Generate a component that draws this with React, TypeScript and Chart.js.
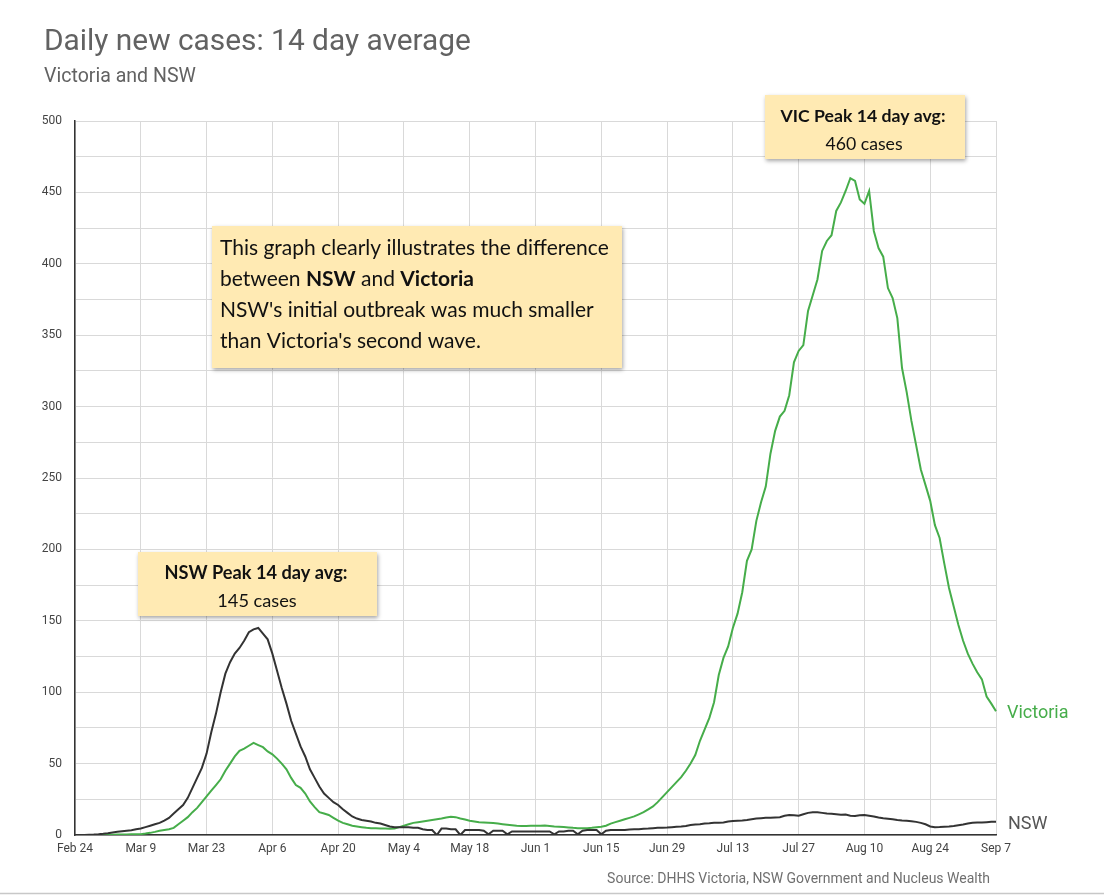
import React, { useEffect, useRef } from "react";
import { Chart, registerables } from "chart.js";

Chart.register(...registerables);

// Tick labels every 14 days (Feb 24 2020 -> Sep 7 2020)
const tickLabels = [
  "Feb 24", "Mar 9", "Mar 23", "Apr 6", "Apr 20", "May 4", "May 18", "Jun 1",
  "Jun 15", "Jun 29", "Jul 13", "Jul 27", "Aug 10", "Aug 24", "Sep 7",
];

const MONTHS = ["Jan", "Feb", "Mar", "Apr", "May", "Jun", "Jul", "Aug", "Sep", "Oct", "Nov", "Dec"];
const dayCategories: string[] = (() => {
  const out: string[] = [];
  const d = new Date(2020, 1, 24);
  for (let i = 0; i <= 196; i++) {
    out.push(MONTHS[d.getMonth()] + " " + d.getDate());
    d.setDate(d.getDate() + 1);
  }
  return out;
})();

// NSW 14-day average of daily new cases
const nswCases = [
  0, 0, 0, 0.2, 0.3,
  0.5, 0.8, 1.2, 1.8, 2.2, 2.6, 3, 3.4, 4, 4.5,
  5.5, 6.5, 7.5, 8.5, 10, 12, 15, 18, 21, 26,
  33, 40, 47, 57, 72, 85, 100, 113, 121, 127,
  131, 136, 142, 144, 145, 141, 137, 127, 115, 103,
  92, 80, 71, 62, 55, 46, 40, 34, 29, 26,
  23, 21, 18, 15.5, 13, 11.5, 10.5, 10, 9.5, 8.5,
  8, 7, 6, 5.5, 5.5, 5.5, 5.5, 5, 5, 4,
  3.5, 3.5, 0, 4.5, 4.5, 4, 4, 0, 3.5, 3.5,
  3.5, 3.5, 3, 0.5, 3, 3, 3, 0.5, 2.5, 2.5,
  2.5, 2.5, 2.5, 2.5, 2.5, 2.5, 2.5, 0.5, 2.5, 2.5,
  3, 3, 0.5, 3, 3.5, 3.5, 3.5, 0.5, 3, 3.5,
  3.5, 3.5, 3.5, 3.8, 4, 4, 4.3, 4.5, 4.8, 5,
  5, 5.2, 5.5, 5.8, 6, 6.3, 7, 7.3, 7.5, 8,
  8.2, 8.5, 8.5, 8.8, 9.5, 9.8, 10, 10.2, 10.5, 11,
  11.5, 11.8, 12, 12, 12.3, 12.5, 13.5, 14, 13.8, 13.5,
  14.5, 15.5, 16, 16, 15.5, 15, 14.8, 14.5, 14.2, 14.3,
  13.5, 13.3, 13.8, 14, 13.5, 13, 12.3, 11.8, 11.4, 11,
  10.5, 10.2, 10, 9.7, 9.2, 8.5, 7.5, 6, 5.5, 5.6,
  5.8, 6, 6.3, 6.8, 7.3, 8, 8.5, 8.7, 8.8, 9, 9.2, 9.3,
];

// Victoria 14-day average of daily new cases
const vicCases = [
  0, 0, 0, 0, 0, 0, 0, 0, 0.2, 0.3,
  0.3, 0.4, 0.5, 0.5, 0.6, 1, 1.5, 2.2, 3, 3.5,
  4, 5, 7.5, 10, 12.5, 16, 19, 23, 27, 31,
  35, 39, 45, 50, 55, 59, 60.5, 62.5, 64.5, 63,
  61.5, 58.5, 56.5, 53.5, 50, 46, 40, 35, 33, 29,
  23.5, 19.5, 16, 15, 14, 12, 10, 8.5, 7.5, 6.5,
  6, 5.5, 5, 4.8, 4.7, 4.6, 4.5, 4.3, 4.5, 5.5,
  6.5, 7.5, 8.5, 9, 9.5, 10, 10.5, 11, 11.5, 12.2,
  12.8, 12.5, 11.5, 10.8, 10, 9.5, 9, 8.8, 8.6, 8.4,
  8, 7.6, 7.2, 6.8, 6.4, 6.3, 6.3, 6.4, 6.5, 6.5,
  6.6, 6.3, 6, 5.8, 5.6, 5.3, 5, 4.8, 4.7, 4.8,
  5, 5.5, 5.8, 6.5, 8, 9, 10, 11, 12, 13,
  14.5, 16, 18, 20, 23, 26.5, 30, 33.5, 37, 40.5,
  45, 50, 56, 66, 74, 82, 93, 112, 124, 132,
  145, 155, 170, 192, 200, 220, 233, 244, 267, 283,
  293, 297, 308, 331, 339, 343, 367, 378, 389, 409,
  416, 420, 437, 443, 451, 460, 458, 445, 442, 451,
  423, 411, 405, 383, 376, 362, 327, 310, 290, 273,
  256, 245, 234, 217, 208, 190, 173, 160, 147, 136,
  127, 120, 114, 109, 97, 92, 86.6,
];

const seriesNames = ["Victoria", "NSW"];
const VIC_COLOR = "#46ad4a";
const NSW_COLOR = "#333333";
const GRID = "#d9d9d9";
const HAND = "Lato, 'Open Sans', sans-serif";
const NOTE_BG = "#ffeab3";

function fitSize(ctx: CanvasRenderingContext2D, text: string, weight: string, family: string, target: number, base: number) {
  ctx.font = `${weight} ${base}px ${family}`;
  const w = ctx.measureText(text).width;
  return (base * target) / w;
}

function noteBox(ctx: CanvasRenderingContext2D, x: number, y: number, w: number, h: number) {
  ctx.save();
  ctx.shadowColor = "rgba(0,0,0,0.35)";
  ctx.shadowBlur = 4;
  ctx.shadowOffsetX = 1;
  ctx.shadowOffsetY = 2;
  ctx.fillStyle = NOTE_BG;
  ctx.fillRect(x, y, w, h);
  ctx.restore();
}

const overlayPlugin = {
  id: "overlay",
  afterDraw(chart: any) {
    const ctx: CanvasRenderingContext2D = chart.ctx;
    const ys = chart.scales.y;
    const area = chart.chartArea;
    ctx.save();

    // Title & subtitle
    ctx.textBaseline = "alphabetic";
    ctx.textAlign = "left";
    ctx.fillStyle = "#626262";
    const title = "Daily new cases: 14 day average";
    let s = fitSize(ctx, title, "400", "Roboto", 427, 29);
    ctx.font = `400 ${s}px Roboto`;
    ctx.fillText(title, 44, 49.5);
    const sub = "Victoria and NSW";
    s = fitSize(ctx, sub, "400", "Roboto", 152, 18.5);
    ctx.font = `400 ${s}px Roboto`;
    ctx.fillText(sub, 44, 81.5);

    // Source
    ctx.fillStyle = "#707070";
    const src = "Source: DHHS Victoria, NSW Government and Nucleus Wealth";
    s = fitSize(ctx, src, "400", "Roboto", 383, 14);
    ctx.font = `400 ${s}px Roboto`;
    ctx.textAlign = "right";
    ctx.fillText(src, 990, 882.5);

    // bottom rule
    ctx.strokeStyle = "#c8c8c8";
    ctx.lineWidth = 1.5;
    ctx.beginPath();
    ctx.moveTo(0, 893.5);
    ctx.lineTo(1104, 893.5);
    ctx.stroke();

    // Series end labels
    ctx.textAlign = "left";
    ctx.font = "400 18px Roboto";
    ctx.fillStyle = VIC_COLOR;
    ctx.fillText(seriesNames[0], area.right + 11, ys.getPixelForValue(vicCases[vicCases.length - 1]) + 6.5);
    ctx.fillStyle = "#555555";
    ctx.fillText(seriesNames[1], area.right + 12, ys.getPixelForValue(nswCases[nswCases.length - 1]) + 7.5);

    // Main note
    noteBox(ctx, 212, 226, 410, 142);
    ctx.fillStyle = "#111";
    ctx.textBaseline = "middle";
    const l1 = "This graph clearly illustrates the difference";
    const hs = fitSize(ctx, l1, "400", HAND, 389, 20);
    ctx.font = `400 ${hs}px ${HAND}`;
    ctx.fillText(l1, 220, 248);
    // line 2 mixed
    const segs: [string, string][] = [["between ", "400"], ["NSW", "700"], [" and ", "400"], ["Victoria", "700"]];
    let cx = 220;
    for (const [t, w] of segs) {
      ctx.font = `${w} ${hs}px ${HAND}`;
      ctx.fillText(t, cx, 279.5);
      cx += ctx.measureText(t).width;
    }
    ctx.font = `400 ${hs}px ${HAND}`;
    ctx.fillText("NSW's initial outbreak was much smaller", 220, 310.5);
    ctx.fillText("than Victoria's second wave.", 220, 341.5);

    // VIC peak note
    noteBox(ctx, 765, 95, 200, 64);
    ctx.textAlign = "center";
    const v1 = "VIC Peak 14 day avg:";
    let ps = fitSize(ctx, v1, "700", HAND, 165, 18);
    ctx.font = `700 ${ps}px ${HAND}`;
    ctx.fillText(v1, 863, 116);
    ctx.font = `400 ${ps}px ${HAND}`;
    ctx.fillText("460 cases", 864, 144);

    // NSW peak note
    noteBox(ctx, 138, 552, 239, 64);
    const n1 = "NSW Peak 14 day avg:";
    ps = fitSize(ctx, n1, "700", HAND, 183, 18);
    ctx.font = `700 ${ps}px ${HAND}`;
    ctx.fillText(n1, 256, 573.5);
    ctx.font = `400 ${ps}px ${HAND}`;
    ctx.fillText("145 cases", 257, 601.5);

    ctx.restore();
  },
};

export default function App() {
  const ref = useRef<HTMLCanvasElement>(null);
  useEffect(() => {
    if (!ref.current) return;
    const chart = new Chart(ref.current, {
      type: "line",
      data: {
        labels: dayCategories,
        datasets: [
          {
            label: seriesNames[1],
            data: nswCases,
            borderColor: NSW_COLOR,
            borderWidth: 2,
            pointRadius: 0,
            tension: 0,
            fill: false,
          },
          {
            label: seriesNames[0],
            data: vicCases,
            borderColor: VIC_COLOR,
            borderWidth: 2,
            pointRadius: 0,
            tension: 0,
            fill: false,
          },
        ],
      },
      options: {
        responsive: false,
        animation: false,
        layout: { padding: { top: 121, right: 108, bottom: 0, left: 0 } },
        plugins: {
          legend: { display: false },
          tooltip: { enabled: false },
          title: { display: false },
        },
        scales: {
          x: {
            type: "category",
            offset: false,
            grid: {
              color: (c: any) => (c.index % 14 === 0 ? GRID : "rgba(0,0,0,0)"),
              drawTicks: false,
              lineWidth: 1,
            },
            border: { color: "#333", width: 1.5 },
            ticks: {
              autoSkip: false,
              maxRotation: 0,
              minRotation: 0,
              padding: 7,
              color: "#444",
              font: { family: "Roboto", size: 12 },
              callback: (_v: any, i: number) => (i % 14 === 0 ? tickLabels[i / 14] : ""),
            },
            afterFit: (sc: any) => {
              sc.height = 60;
            },
          },
          y: {
            min: 0,
            max: 500,
            grid: { color: GRID, drawTicks: false, lineWidth: 1 },
            border: { color: "#333", width: 1.5 },
            ticks: {
              stepSize: 25,
              padding: 13,
              color: "#444",
              font: { family: "Roboto", size: 12 },
              callback: (v: any) => (Number(v) % 50 === 0 ? String(v) : ""),
            },
            afterFit: (sc: any) => {
              sc.width = 75;
            },
          },
        },
      },
      plugins: [overlayPlugin],
    } as any);
    return () => chart.destroy();
  }, []);
  return (
    <div style={{ position: "absolute", left: 0, top: 0, width: 1104, height: 895, background: "#fff" }}>
      <canvas ref={ref} width={1104} height={895} style={{ display: "block" }} />
    </div>
  );
}
